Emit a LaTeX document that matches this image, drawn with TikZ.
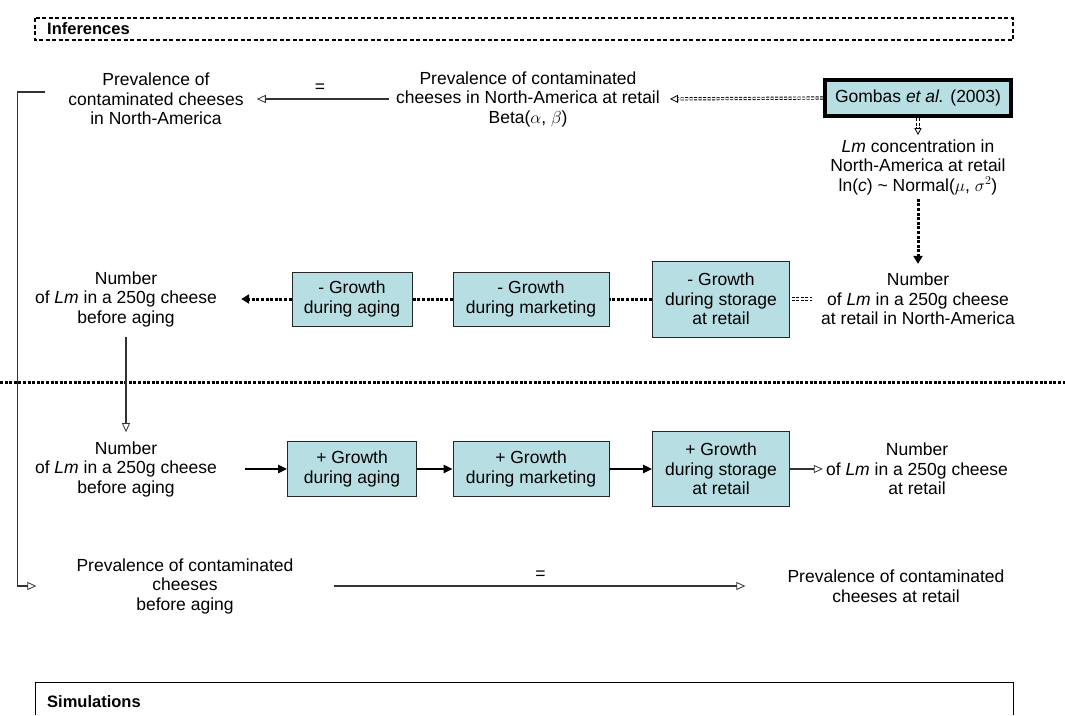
\documentclass[tikz,border=0pt]{standalone}
\usepackage{fontspec}
\setmainfont{Liberation Sans}
\usetikzlibrary{arrows.meta}
\definecolor{cajacian}{RGB}{183,222,226}

\begin{document}
\begin{tikzpicture}[x=1pt,y=-1pt,
    every node/.style={font=\fontsize{17.5}{19.5}\selectfont},
    texto/.style={align=center, inner sep=0pt},
    caja/.style={draw=black!85, line width=0.9pt, fill=cajacian, align=center, inner sep=0pt},
    titulo/.style={font=\fontsize{16.5}{18}\selectfont\bfseries, anchor=west, inner sep=0pt},
    flechaabierta/.style={draw=black!80, line width=1.3pt, -{Triangle[open, length=9pt, width=8pt, line width=0.8pt]}},
    punteada/.style={line width=3pt, dash pattern=on 3pt off 1.6pt},
    hueca/.style={double=white, double distance=1.4pt, line width=0.9pt, dash pattern=on 3pt off 1.5pt},
    gruesa/.style={line width=2.4pt, -{Triangle[length=9pt, width=8pt]}}]
  \useasboundingbox (0,0) rectangle (1065,715);

  % Inferencias
  \node[titulo] (infer) at (47,29) {Inferences};
  \draw[line width=1.4pt, dash pattern=on 4pt off 2.5pt] (35,18) rectangle (1013,40);

  \node[texto] (prevna) at (156,99) {Prevalence of\\contaminated cheeses\\in North-America};
  \node[texto] (prevretna) at (528,99) {Prevalence of contaminated\\cheeses in North-America at retail\\Beta($\alpha$, $\beta$)};
  \node[caja, draw=black, line width=4pt, minimum width=186pt, minimum height=36pt] (gombas) at (918,98) {Gombas \textit{et al.} (2003)};
  \node[texto] (concna) at (918,167) {\textit{Lm} concentration in\\North-America at retail\\ln(\textit{c}) \textasciitilde{} Normal($\mu$, $\sigma^2$)};

  \node[texto] (numna) at (918,299) {Number\\of \textit{Lm} in a 250g cheese\\at retail in North-America};
  \node[caja, minimum width=137pt, minimum height=76pt] (almmenos) at (721,299) {- Growth\\during storage\\at retail};
  \node[caja, minimum width=156pt, minimum height=54pt] (comermenos) at (531,299) {- Growth\\during marketing};
  \node[caja, minimum width=120pt, minimum height=54pt] (maduramenos) at (352,299) {- Growth\\during aging};
  \node[texto] (numantes) at (126,299) {Number\\of \textit{Lm} in a 250g cheese\\before aging};

  \draw[flechaabierta, shorten <=7pt, shorten >=13pt] (prevretna.west) -- (prevna.east) node[midway, above=3pt] {=};
  \draw[hueca, -{Triangle[open, length=8pt, width=8pt, line width=0.8pt]}, shorten >=10pt] (gombas.west) -- (prevretna.east);
  \draw[hueca, -{Triangle[open, length=7pt, width=7pt, line width=0.8pt]}, shorten >=4pt] (gombas.south) -- (concna.north);
  \draw[punteada, -{Triangle[length=8pt, width=9pt]}, shorten <=4pt, shorten >=9pt] (concna.south) -- (numna.north);

  \draw[hueca, shorten <=2pt, shorten >=9pt] (almmenos.east) -- (numna.west);
  \draw[punteada] (almmenos.west) -- (comermenos.east);
  \draw[punteada] (comermenos.west) -- (maduramenos.east);
  \draw[punteada, -{Triangle[length=8pt, width=9pt]}, shorten >=24pt] (maduramenos.west) -- (numantes.east);

  % Separacion
  \draw[punteada] (0,382) -- (1065,382);

  % Simulaciones
  \node[texto] (numantes2) at (126,469) {Number\\of \textit{Lm} in a 250g cheese\\before aging};
  \node[caja, minimum width=129pt, minimum height=55pt] (madurames) at (352,469) {+ Growth\\during aging};
  \node[caja, minimum width=156pt, minimum height=55pt] (comermas) at (531,469) {+ Growth\\during marketing};
  \node[caja, minimum width=137pt, minimum height=75pt] (almmas) at (721,469) {+ Growth\\during storage\\at retail};
  \node[texto] (numret) at (917,469) {Number\\of \textit{Lm} in a 250g cheese\\at retail};

  \node[texto] (prevantes) at (185,586) {Prevalence of contaminated\\cheeses\\before aging};
  \node[texto] (prevret) at (896,586) {Prevalence of contaminated\\cheeses at retail};

  \draw[flechaabierta, shorten <=10pt, shorten >=9pt] (numantes.south) -- (numantes2.north);
  \draw[gruesa, shorten <=28pt] (numantes2.east) -- (madurames.west);
  \draw[gruesa] (madurames.east) -- (comermas.west);
  \draw[gruesa] (comermas.east) -- (almmas.west);
  \draw[flechaabierta, shorten >=3pt] (almmas.east) -- (numret.west);

  \draw[flechaabierta] ([xshift=-23pt, yshift=7pt]prevna.west) -- ++(-28,0) |- ([xshift=-40pt]prevantes.west);
  \draw[flechaabierta, shorten <=40pt, shorten >=42pt] (prevantes.east) -- (prevret.west) node[midway, above=3pt] {=};

  \node[titulo] (simul) at (47,702) {Simulations};
  \draw[line width=1pt] (35,715) |- (1013,682) -- (1013,715);
\end{tikzpicture}
\end{document}
